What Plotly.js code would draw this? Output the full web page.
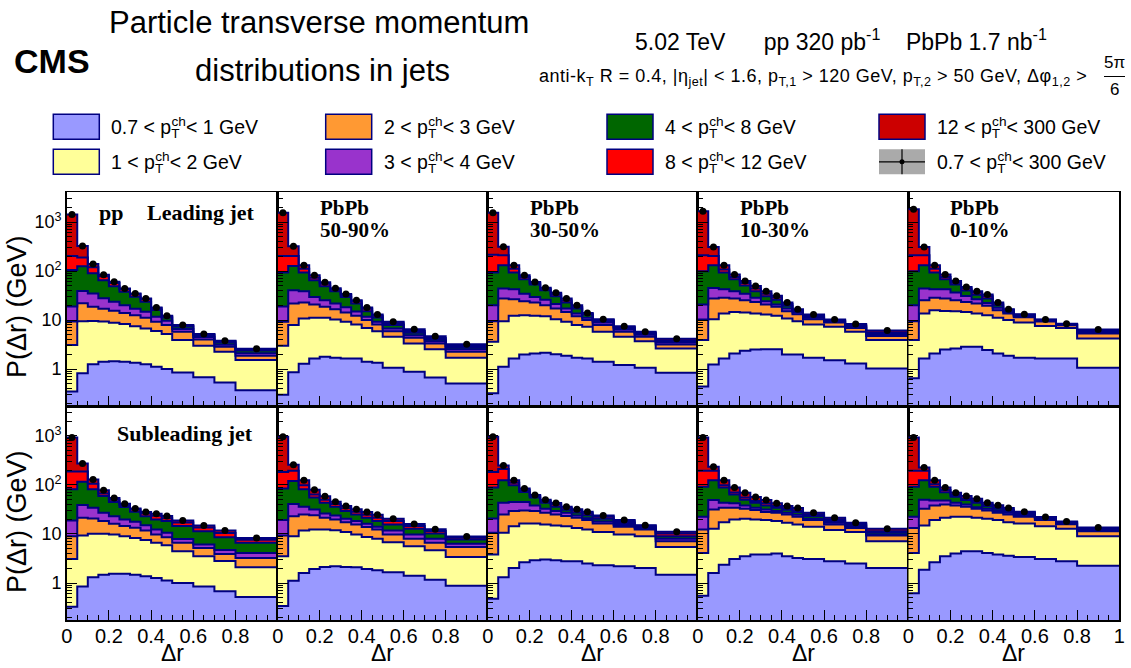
<!DOCTYPE html>
<html><head><meta charset="utf-8">
<script src="https://cdn.plot.ly/plotly-3.0.1.min.js"></script>
<style>html,body{margin:0;padding:0;background:#fff}#plot{width:1131px;height:668px}</style>
</head><body><div id="plot"></div>
<script>
// ---------------- DATA ----------------
const binEdges = [0, 0.05, 0.1, 0.15, 0.2, 0.25, 0.3, 0.35, 0.4, 0.45, 0.5, 0.6, 0.7, 0.8, 1.0];
const PT = 'p<sub><span style="letter-spacing:-8px">T</span></sub><sup>ch</sup>';
const bandLabels = [
  '0.7 &lt; ' + PT + '&lt; 1 GeV',
  '1 &lt; ' + PT + '&lt; 2 GeV',
  '2 &lt; ' + PT + '&lt; 3 GeV',
  '3 &lt; ' + PT + '&lt; 4 GeV',
  '4 &lt; ' + PT + '&lt; 8 GeV',
  '8 &lt; ' + PT + '&lt; 12 GeV',
  '12 &lt; ' + PT + '&lt; 300 GeV'
];
const totalLabel = '0.7 &lt; ' + PT + '&lt; 300 GeV';
const bandColors = ['#9999ff', '#ffff99', '#ff9933', '#9933cc', '#006600', '#ff0000', '#cc0000'];
const xTickLabels = ['0', '0.2', '0.4', '0.6', '0.8', '1'];

// Each row = one Δr bin; columns = stacked P(Δr) (GeV) after adding the
// 0.7-1, 1-2, 2-3, 3-4, 4-8, 8-12, 12-300 GeV bands (last column = total).
const ppLead = [
  [0.35, 3.1, 9.3, 19, 105, 203, 1433],
  [0.82, 9.5, 22, 39, 126, 190, 324],
  [1.25, 9.6, 18.7, 35, 90, 119, 139],
  [1.41, 9.4, 17, 28, 65, 78, 84],
  [1.45, 8.8, 15.5, 23.6, 49, 57, 60.6],
  [1.41, 8.3, 14, 20, 38, 42.5, 44.3],
  [1.35, 7.5, 12.6, 17, 30, 33.5, 35],
  [1.25, 6.7, 11.2, 14.8, 23.7, 26.6, 27.7],
  [1.12, 6.0, 9.2, 11.7, 16, 17.5, 18.1],
  [1.0, 5.2, 7.9, 9.7, 11.3, 11.9, 12.2],
  [0.85, 3.9, 5.8, 6.6, 7.4, 7.7, 7.9],
  [0.68, 3.0, 4.0, 4.5, 4.9, 5.1, 5.2],
  [0.53, 2.26, 2.85, 3.15, 3.5, 3.7, 3.8],
  [0.37, 1.53, 1.87, 2.1, 2.4, 2.52, 2.6]
];
const pbLead5090 = [
  [0.30, 3.0, 9.2, 19, 93, 203, 1552],
  [0.86, 7.9, 21.7, 40.7, 127, 203, 320],
  [1.28, 10.8, 22.8, 38.9, 93, 112, 131],
  [1.65, 11.1, 20.7, 29.7, 65, 73, 82],
  [1.78, 11.1, 18.6, 25.5, 49, 55, 59],
  [1.70, 10.3, 16.7, 21.8, 38.7, 42, 44.7],
  [1.65, 9.2, 14.3, 18.3, 29.6, 32.5, 34.2],
  [1.65, 8.1, 12.2, 14.9, 21.7, 24.2, 25.4],
  [1.41, 6.9, 10, 11.7, 15.2, 17, 18],
  [1.35, 5.95, 8.1, 9.2, 11.3, 12.3, 13],
  [1.06, 4.55, 5.95, 6.7, 7.9, 8.6, 9.2],
  [0.88, 3.33, 4.35, 4.9, 5.5, 6.0, 6.5],
  [0.67, 2.55, 3.33, 3.7, 4.0, 4.3, 4.7],
  [0.51, 1.70, 2.25, 2.55, 2.76, 2.95, 3.23]
];
const pbLead3050 = [
  [0.32, 3.6, 9.5, 20, 93, 216, 1552],
  [1.12, 9.5, 27.5, 44, 131, 210, 315],
  [1.65, 12.2, 26.6, 42.5, 93, 112, 131],
  [1.99, 12.6, 24.2, 34.6, 68, 76, 82],
  [2.08, 12.2, 22.8, 29.6, 53, 57, 60],
  [2.15, 12, 20, 26, 40.5, 43.5, 45.4],
  [2.02, 10.4, 17.2, 21.3, 30.6, 33.5, 35.9],
  [1.87, 9.2, 14.7, 17.2, 22.8, 25, 27.5],
  [1.70, 7.9, 12, 13.6, 17.2, 18.5, 20.1],
  [1.65, 7.3, 10, 11.1, 13, 13.5, 14],
  [1.41, 5.76, 7.9, 8.9, 9.6, 10, 10.4],
  [1.21, 4.55, 5.76, 6.4, 6.9, 7.2, 7.5],
  [1.06, 3.7, 4.55, 5.0, 5.3, 5.5, 5.75],
  [0.84, 2.63, 3.18, 3.5, 3.7, 3.85, 4.15]
];
const pbLead1030 = [
  [0.44, 3.9, 10.3, 20.7, 99, 210, 1652],
  [1.24, 10.4, 27.5, 45, 131, 203, 310],
  [1.65, 13.6, 28.4, 42.5, 93, 108, 131],
  [2.08, 14.7, 27.5, 38.7, 68, 76, 84.8],
  [2.36, 14.3, 25.4, 34.6, 51, 57, 63],
  [2.52, 13.6, 23.5, 28.4, 38.7, 44, 49.8],
  [2.55, 13, 20.7, 24.2, 30.6, 34.5, 38.8],
  [2.55, 12.2, 18.6, 20.7, 26, 28.8, 31.2],
  [1.99, 10.8, 15.2, 17.2, 19.5, 21.3, 22.8],
  [1.99, 9.5, 13.2, 14.3, 15.3, 16, 16.7],
  [1.70, 8.1, 10.4, 11.1, 11.7, 12.2, 13],
  [1.52, 7.3, 8.9, 9.3, 9.6, 9.9, 10.3],
  [1.30, 5.76, 6.9, 7.3, 7.6, 7.9, 8.3],
  [1.03, 3.9, 4.76, 5.1, 5.3, 5.6, 6.1]
];
const pbLead010 = [
  [0.65, 3.9, 9.5, 20, 99, 210, 1815],
  [1.65, 13.6, 25.4, 44, 131, 210, 310],
  [2.08, 15.9, 28.4, 42.5, 93, 112, 131],
  [2.52, 15.4, 27.5, 42.5, 68, 76, 84.8],
  [2.63, 15.2, 25.4, 36.5, 53, 58, 63],
  [2.85, 14.7, 23.5, 31, 40, 44, 47.5],
  [2.85, 13.6, 21.7, 26.6, 33, 36.5, 38.8],
  [2.44, 12.6, 19.5, 22.4, 27.5, 30.5, 33.2],
  [2.08, 11.1, 15.9, 17.8, 20, 21.5, 22.8],
  [1.87, 10, 13.6, 14.7, 15.5, 16.2, 16.7],
  [1.70, 8.9, 11.4, 12, 12.4, 12.8, 13.2],
  [1.65, 7.6, 9.4, 9.7, 9.9, 10.1, 10.3],
  [1.65, 6.9, 7.8, 8.0, 8.1, 8.25, 8.4],
  [1.06, 4.2, 5.3, 5.6, 5.8, 6.0, 6.4]
];
const ppSub = [
  [0.33, 3.1, 9.0, 18.9, 81, 187, 927],
  [0.85, 9.3, 21.4, 39, 116, 187, 272],
  [1.31, 10.1, 20.7, 34, 81, 106, 128],
  [1.48, 10.1, 18.3, 27, 59, 67, 77.5],
  [1.55, 9.7, 16.1, 23, 45, 50, 54],
  [1.55, 9.0, 14.5, 19.8, 35.5, 39, 41.4],
  [1.48, 8.3, 13.4, 17.7, 28.3, 31.5, 33.2],
  [1.37, 7.5, 11.7, 15.1, 23, 26, 27.9],
  [1.27, 6.6, 9.7, 12.3, 19.7, 23.5, 25.8],
  [1.13, 5.9, 8.6, 10.6, 18.3, 21, 23.1],
  [1.0, 4.45, 6.6, 7.9, 14.5, 17.2, 18.9],
  [0.85, 3.5, 5.2, 6.1, 11.4, 13.5, 14.9],
  [0.68, 2.8, 3.9, 4.7, 8.6, 10.5, 11.8],
  [0.52, 2.09, 3.25, 4.1, 6.6, 7.6, 8.3]
];
const pbSub5090 = [
  [0.34, 3.5, 9.3, 19.2, 84, 184, 955],
  [1.11, 9, 23, 41, 120, 193, 256],
  [1.6, 11.8, 25, 36, 81, 98, 124],
  [1.93, 12.3, 24, 31.6, 55, 64, 80],
  [2.12, 12.3, 21.4, 26, 43, 50, 58.5],
  [2.19, 11.9, 19.8, 23.9, 36, 41, 45.5],
  [2.12, 10.9, 17.4, 20.3, 29.3, 33.5, 37],
  [2.09, 9.7, 15.6, 18.3, 25, 28.5, 31.7],
  [1.93, 8.7, 13.8, 16.1, 21.4, 24.5, 27.9],
  [1.82, 7.95, 12.3, 14, 18.3, 21.4, 24.6],
  [1.65, 6.8, 9.7, 11.8, 15.6, 18.3, 20.4],
  [1.41, 5.6, 7.95, 9.7, 12.7, 14.5, 15.9],
  [1.17, 4.65, 6.6, 7.95, 10.2, 11.5, 12.5],
  [0.88, 3.4, 5.4, 6.3, 7.7, 8.4, 8.9]
];
const pbSub3050 = [
  [0.48, 3.8, 10.6, 20.7, 88, 184, 955],
  [1.31, 10.6, 25, 43, 124, 210, 248],
  [2.03, 14.4, 29.3, 44.6, 98, 111, 124],
  [2.65, 16.4, 30.2, 44.6, 72, 78, 84],
  [2.9, 16.4, 29.3, 38, 55, 59, 62],
  [3.0, 15.6, 27, 32.6, 43, 47, 50],
  [2.9, 14.9, 25, 29.3, 36, 40, 42.7],
  [2.77, 14.4, 23.1, 27, 31, 34, 35.9],
  [2.77, 13.3, 21.4, 23.9, 27.5, 30, 31.7],
  [2.49, 12.3, 19.2, 21, 24, 26.5, 28.4],
  [2.3, 10.9, 16.4, 18, 20.5, 22.3, 23.9],
  [2.19, 9.7, 14, 15.3, 16.8, 18.2, 19.2],
  [2.03, 9, 12.3, 13.3, 14.1, 14.7, 15.1],
  [1.48, 5.45, 7.1, 7.95, 9.0, 10.2, 11.1]
];
const pbSub1030 = [
  [0.55, 4.1, 12.3, 22.4, 92, 193, 927],
  [1.6, 12.7, 31.6, 49, 124, 193, 233],
  [2.37, 17.4, 34, 43, 88, 98, 124],
  [3.1, 19.8, 34, 42, 64, 70, 88],
  [3.5, 20.4, 32.6, 38, 50, 55, 69.5],
  [3.8, 19.8, 30.6, 34, 43, 47, 56.6],
  [3.8, 19.2, 28, 31.6, 38, 42, 49.2],
  [4.0, 18.3, 27, 29.3, 34, 37, 42],
  [3.5, 16.9, 25, 27, 31, 33.5, 37],
  [3.25, 15.6, 22.4, 24.6, 28, 30.2, 33.7],
  [3.1, 14, 19.2, 20.4, 23.1, 25, 27],
  [2.77, 12, 15.6, 16.9, 18.3, 19.8, 21.4],
  [2.49, 10.9, 13.3, 14.4, 15.4, 16.2, 16.9],
  [2.03, 7.1, 9.3, 9.9, 10.9, 11.4, 12.7]
];
const pbSub010 = [
  [0.62, 4.1, 13.3, 22.4, 92, 193, 927],
  [1.87, 14.9, 32.6, 50, 124, 193, 226],
  [2.65, 19.2, 38, 48, 92, 103, 124],
  [3.5, 21.4, 40, 48, 71, 79, 88],
  [4.0, 22.4, 38, 43, 57, 62, 69.5],
  [4.45, 22.4, 36, 40, 49, 53, 59.4],
  [4.45, 21.4, 32.6, 35, 43, 47, 52.4],
  [4.1, 20.4, 30.2, 32.6, 37, 40, 43.4],
  [3.8, 19.2, 27, 29.3, 32.5, 35, 38.3],
  [3.6, 17.4, 25, 27, 29.5, 31.5, 33.7],
  [3.4, 16.4, 22.4, 23.9, 25.5, 26.8, 28.4],
  [3.1, 14.4, 19.2, 20.1, 21, 21.5, 22.1],
  [2.77, 12.7, 15.8, 16.4, 17.1, 17.6, 18],
  [2.26, 9, 11.4, 12, 12.6, 13, 13.6]
];
const panelData = [ppLead, pbLead5090, pbLead3050, pbLead1030, pbLead010,
                   ppSub, pbSub5090, pbSub3050, pbSub1030, pbSub010];
const centralityLabels = ['', '50-90%', '30-50%', '10-30%', '0-10%'];

// ---------------- LAYOUT GEOMETRY ----------------
const W = 1131, H = 668;
const colPx = [66.7, 277.7, 487.7, 697.7, 908.3, 1119.3];
const rowPx = [[192.3, 406], [406, 620]];
const yRange = [-0.753, 3.607];
const SANS = 'Liberation Sans, Arial, Helvetica, sans-serif';
const SERIF = 'Liberation Serif, Times New Roman, serif';
const NAVY = '#000080';
const px = v => v / W, py = v => 1 - v / H;

const minorY = [];
[0.1, 1, 10, 100, 1000].forEach(d => { for (let k = 2; k <= 9; k++) minorY.push(k * d); });

const traces = [];
const layout = {
  width: W, height: H, margin: {l: 0, r: 0, t: 0, b: 0},
  paper_bgcolor: '#fff', plot_bgcolor: '#fff', showlegend: false, hovermode: false,
  annotations: [], shapes: []
};

for (let p = 0; p < 10; p++) {
  const row = Math.floor(p / 5), col = p % 5;
  const sfx = p === 0 ? '' : String(p + 1);
  const xa = 'x' + sfx, ya = 'y' + sfx;
  const rows = panelData[p];
  const nb = rows.length;
  const xs = binEdges.slice();
  const floorY = xs.map(() => 1e-3);
  traces.push({type: 'scatter', mode: 'lines', x: xs, y: floorY, xaxis: xa, yaxis: ya,
    line: {width: 0, shape: 'hv'}, hoverinfo: 'skip'});
  for (let b = 0; b < 7; b++) {
    const ys = rows.map(r => r[b]);
    ys.push(ys[nb - 1]);
    traces.push({type: 'scatter', mode: 'lines', x: xs, y: ys, xaxis: xa, yaxis: ya,
      fill: 'tonexty', fillcolor: bandColors[b],
      line: {color: NAVY, width: 2, shape: 'hv'}, hoverinfo: 'skip'});
  }
  const centers = [];
  for (let i = 0; i < nb; i++) centers.push((binEdges[i] + binEdges[i + 1]) / 2);
  traces.push({type: 'scatter', mode: 'markers', x: centers, y: rows.map(r => r[6]),
    xaxis: xa, yaxis: ya, marker: {color: '#000', size: 7}, hoverinfo: 'skip'});

  const xDom = [px(colPx[col]), px(colPx[col + 1])];
  const yDom = [py(rowPx[row][1]), py(rowPx[row][0])];
  layout['xaxis' + sfx] = {
    domain: xDom, range: [0, 1], anchor: ya, showline: true, mirror: true,
    linecolor: '#000', linewidth: 1.5, ticks: 'inside', ticklen: 10, tickwidth: 1, tickcolor: '#000',
    tickmode: 'array', tickvals: [0, 0.2, 0.4, 0.6, 0.8, 1],
    ticktext: xTickLabels.map((t, i) => (i === 5 && col < 4) ? '' : t),
    showticklabels: row === 1, tickfont: {family: SANS, size: 20, color: '#000'},
    ticklabelstandoff: -3,
    minor: {ticks: 'inside', ticklen: 5, dtick: 0.05, tick0: 0, tickcolor: '#000', tickwidth: 1},
    showgrid: false, zeroline: false, fixedrange: true, automargin: false, layer: 'above traces'
  };
  layout['yaxis' + sfx] = {
    domain: yDom, type: 'log', range: yRange, anchor: xa, showline: true, mirror: true,
    linecolor: '#000', linewidth: 1.5, ticks: 'inside', ticklen: 10, tickwidth: 1, tickcolor: '#000',
    tickmode: 'array', tickvals: [1, 10, 100, 1000], ticktext: ['1', '10', '10<sup>2</sup>', '10<sup>3</sup>'],
    showticklabels: col === 0, tickfont: {family: SANS, size: 18, color: '#000'},
    minor: {tickmode: 'array', tickvals: minorY, ticks: 'inside', ticklen: 5, tickcolor: '#000', tickwidth: 1},
    showgrid: false, zeroline: false, fixedrange: true, automargin: false, layer: 'above traces'
  };
}

function A(x, y, text, size, xanchor, yanchor, extra) {
  return Object.assign({xref: 'paper', yref: 'paper', x: px(x), y: py(y), text: text, showarrow: false,
    xanchor: xanchor || 'center', yanchor: yanchor || 'middle',
    font: {family: SANS, size: size, color: '#000'}}, extra || {});
}
const ann = layout.annotations, shp = layout.shapes;
const NB = '\u00a0';

// header
ann.push(A(52, 61, '<b>CMS</b>', 34));
ann.push(A(319, 23, 'Particle transverse momentum', 31));
ann.push(A(322, 70, 'distributions in jets', 31));
ann.push(A(633, 40, '5.02 TeV' + NB.repeat(6) + 'pp 320 pb<sup>-1</sup>' + NB.repeat(4) + 'PbPb 1.7 nb<sup>-1</sup>', 23, 'left'));
ann.push(A(537, 77, '<span style="letter-spacing:0.5px">anti-k<sub>T</sub> R = 0.4, |η<sub>jet</sub>| &lt; 1.6, p<sub>T,1</sub> &gt; 120 GeV, p<sub>T,2</sub> &gt; 50 GeV, Δφ<sub>1,2</sub> &gt;</span>', 18, 'left'));
ann.push(A(1114, 63, '5π', 17));
ann.push(A(1114, 89, '6', 17));
shp.push({type: 'line', xref: 'paper', yref: 'paper', x0: px(1104), x1: px(1125), y0: py(76.5), y1: py(76.5), line: {color: '#000', width: 1}});

// legend
const legCols = [53.3, 325.7, 607, 879];
const legRows = [114.3, 149.3];
const legItems = [[0, 0, 0], [1, 0, 1], [2, 1, 0], [3, 1, 1], [4, 2, 0], [5, 2, 1], [6, 3, 0], [7, 3, 1]];
legItems.forEach(([idx, c, r]) => {
  const bx = legCols[c], by = legRows[r];
  if (idx < 7) {
    shp.push({type: 'rect', xref: 'paper', yref: 'paper', x0: px(bx), x1: px(bx + 46), y0: py(by), y1: py(by + 25),
      fillcolor: bandColors[idx], line: {color: NAVY, width: 1.5}});
    ann.push(A(bx + 56, by + 13, bandLabels[idx], 19.5, 'left'));
  } else {
    shp.push({type: 'rect', xref: 'paper', yref: 'paper', x0: px(bx), x1: px(bx + 46), y0: py(by), y1: py(by + 25),
      fillcolor: '#aaaaaa', line: {width: 0}});
    shp.push({type: 'line', xref: 'paper', yref: 'paper', x0: px(bx), x1: px(bx + 46), y0: py(by + 12.5), y1: py(by + 12.5), line: {color: '#000', width: 1.2}});
    shp.push({type: 'line', xref: 'paper', yref: 'paper', x0: px(bx + 23), x1: px(bx + 23), y0: py(by), y1: py(by + 25), line: {color: '#000', width: 1.2}});
    shp.push({type: 'circle', xref: 'paper', yref: 'paper', x0: px(bx + 20.5), x1: px(bx + 25.5), y0: py(by + 10), y1: py(by + 15), fillcolor: '#000', line: {width: 0}});
    ann.push(A(bx + 56, by + 13, totalLabel, 19.5, 'left'));
  }
});

// panel labels
const serifFont = s => ({family: SERIF, size: s, color: '#000'});
ann.push(A(97, 213, '<b>pp</b>', 22, 'left', 'middle', {font: serifFont(22)}));
ann.push(A(145, 213, '<b>Leading jet</b>', 22, 'left', 'middle', {font: serifFont(22)}));
ann.push(A(115, 433, '<b>Subleading jet</b>', 22, 'left', 'middle', {font: serifFont(22)}));
for (let c = 1; c < 5; c++) {
  ann.push(A(colPx[c] + 40, 208, '<b>PbPb</b>', 21, 'left', 'middle', {font: serifFont(21)}));
  ann.push(A(colPx[c] + 40, 230, '<b>' + centralityLabels[c] + '</b>', 21, 'left', 'middle', {font: serifFont(21)}));
}

// axis titles
ann.push(A(17, 307, 'P(Δr) (GeV)', 27, 'center', 'middle', {textangle: -90}));
ann.push(A(17, 522, 'P(Δr) (GeV)', 27, 'center', 'middle', {textangle: -90}));
for (let c = 0; c < 5; c++) {
  ann.push(A((colPx[c] + colPx[c + 1]) / 2, 653, 'Δr', 23, 'center', 'middle', {borderpad: 0}));
}

Plotly.newPlot('plot', traces, layout, {staticPlot: true, displayModeBar: false});
</script></body></html>
